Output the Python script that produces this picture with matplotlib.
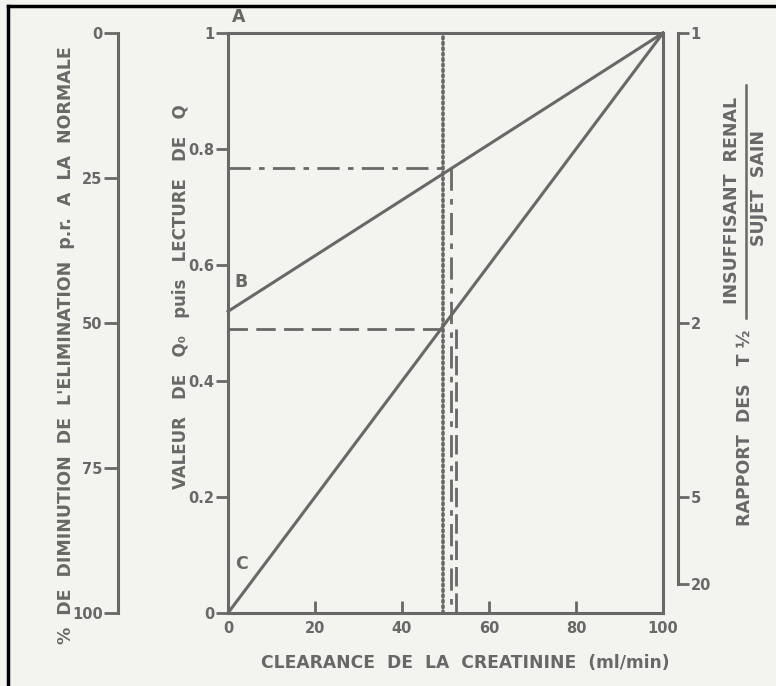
import matplotlib
matplotlib.use('Agg')
import matplotlib.pyplot as plt
from matplotlib.lines import Line2D

# nomogram data
clearance = [0, 100]
line_a = [1.0, 1.0]
line_b = [0.52, 1.0]
line_c = [0.0, 1.0]
q_b_read = 0.767      # reading on B
q_c_read = 0.49       # reading on C
x_dotted = 49.5
x_b_read = 51.2
x_c_read = 52.3

q_ticks = [0, 0.2, 0.4, 0.6, 0.8, 1]
q_labels = ['0', '0.2', '0.4', '0.6', '0.8', '1']
x_ticks = [0, 20, 40, 60, 80, 100]
pct_ticks = [0, 25, 50, 75, 100]
ratio_ticks = [1, 2, 5, 20]

grey = '#686868'
bg = '#f3f3f0'
plt.rcParams['font.family'] = ['DejaVu Sans']
plt.rcParams['font.weight'] = 'bold'
tsize = 10.5

W, H = 776, 686
fig = plt.figure(figsize=(W / 100, H / 100), dpi=100, facecolor=bg)

def fx(px):
    return px / W

def fy(py):
    return 1 - py / H

y0, y1 = fy(613), fy(33)
ax = fig.add_axes([fx(228), y0, fx(663) - fx(228), y1 - y0])
ax.set_facecolor('none')
ax.set_xlim(0, 100)
ax.set_ylim(0, 1)
lw = 2.2

ax.plot(clearance, line_a, color=grey, lw=lw, clip_on=False)
ax.plot(clearance, line_b, color=grey, lw=lw, clip_on=False)
ax.plot(clearance, line_c, color=grey, lw=lw, clip_on=False)

ax.plot([x_dotted, x_dotted], [0, 1], color=grey, lw=2.6, ls=(0, (0.5, 1.0)),
        dash_capstyle='round')
ax.plot([0, x_b_read], [q_b_read, q_b_read], color=grey, lw=2.0, ls=(0, (8, 3, 2, 3)))
ax.plot([x_b_read, x_b_read], [q_b_read, 0], color=grey, lw=2.0, ls=(0, (8, 3, 2, 3)))
ax.plot([0, 50], [q_c_read, q_c_read], color=grey, lw=2.0, ls=(0, (7, 3)))
ax.plot([x_c_read, x_c_read], [q_c_read, 0], color=grey, lw=2.0, ls=(0, (7, 2.5)))

ax.spines['top'].set_visible(False)
for s in ['left', 'bottom', 'right']:
    ax.spines[s].set_color(grey)
    ax.spines[s].set_linewidth(lw)

ax.set_xticks(x_ticks)
ax.set_xticklabels([str(v) for v in x_ticks])
ax.set_yticks(q_ticks)
ax.set_yticklabels(q_labels)
ax.tick_params(axis='x', direction='in', length=9, width=2, color=grey,
               labelcolor=grey, labelsize=tsize, pad=6)
ax.tick_params(axis='y', direction='out', length=9, width=2, color=grey,
               labelcolor=grey, labelsize=tsize, pad=1)

ax.text(2.5, 1.012, 'A', color=grey, fontsize=12.5, fontweight='bold', va='bottom', ha='center', clip_on=False)
ax.text(3.0, 0.57, 'B', color=grey, fontsize=12.5, fontweight='bold', va='center', ha='center')
ax.text(3.0, 0.085, 'C', color=grey, fontsize=12.5, fontweight='bold', va='center', ha='center')

fig.text(fx(465), fy(663), 'CLEARANCE  DE  LA  CREATININE  (ml/min)', color=grey,
         fontsize=12.3, fontweight='bold', ha='center', va='center')

fig.text(fx(181), fy(297), 'VALEUR   DE   Q\u2080   puis   LECTURE   DE   Q', rotation=90,
         color=grey, fontsize=12, fontweight='bold', ha='center', va='center')

# left scale, % diminution
axl = fig.add_axes([fx(118), y0, 0.0001, y1 - y0])
axl.set_facecolor('none')
axl.set_ylim(100, 0)
axl.set_xticks([])
for s in ['top', 'bottom', 'right']:
    axl.spines[s].set_visible(False)
axl.spines['left'].set_color(grey)
axl.spines['left'].set_linewidth(lw)
axl.set_yticks(pct_ticks)
axl.set_yticklabels([str(v) for v in pct_ticks])
axl.tick_params(axis='y', direction='out', length=10, width=2, color=grey,
                labelcolor=grey, labelsize=tsize, pad=1)
fig.text(fx(66), fy(345), "%  DE  DIMINUTION  DE  L'ELIMINATION  p.r.  A  LA  NORMALE",
         rotation=90, color=grey, fontsize=12.5, fontweight='bold', ha='center', va='center')

# right scale, ratio of half-lives
axr = fig.add_axes([fx(678), y0, 0.0001, y1 - y0])
axr.set_facecolor('none')
axr.set_ylim(0, 1)
axr.set_xticks([])
for s in ['top', 'bottom', 'left']:
    axr.spines[s].set_visible(False)
axr.spines['right'].set_color(grey)
axr.spines['right'].set_linewidth(lw)
axr.spines['right'].set_bounds(1 / ratio_ticks[-1], 1)
axr.yaxis.tick_right()
axr.set_yticks([1 / r for r in ratio_ticks])
axr.set_yticklabels([str(r) for r in ratio_ticks])
axr.tick_params(axis='y', direction='out', length=8, width=2, color=grey,
                labelcolor=grey, labelsize=tsize, pad=1)

fig.text(fx(745), fy(428), 'RAPPORT  DES   T \u00bd', rotation=90, color=grey,
         fontsize=12.5, fontweight='bold', ha='center', va='center')
fig.text(fx(732), fy(200), 'INSUFFISANT  RENAL', rotation=90, color=grey,
         fontsize=12.5, fontweight='bold', ha='center', va='center')
fig.text(fx(759), fy(188), 'SUJET  SAIN', rotation=90, color=grey,
         fontsize=12.5, fontweight='bold', ha='center', va='center')
fig.add_artist(Line2D([fx(745.5), fx(745.5)], [fy(85), fy(318)], color=grey, lw=1.8))

# scan frame edges
fig.add_artist(Line2D([fx(8), 1], [fy(6), fy(6)], color='black', lw=2.5))
fig.add_artist(Line2D([fx(8), fx(8)], [fy(6), 0], color='black', lw=2.5))

fig.savefig('out.png', dpi=100, facecolor=bg)
